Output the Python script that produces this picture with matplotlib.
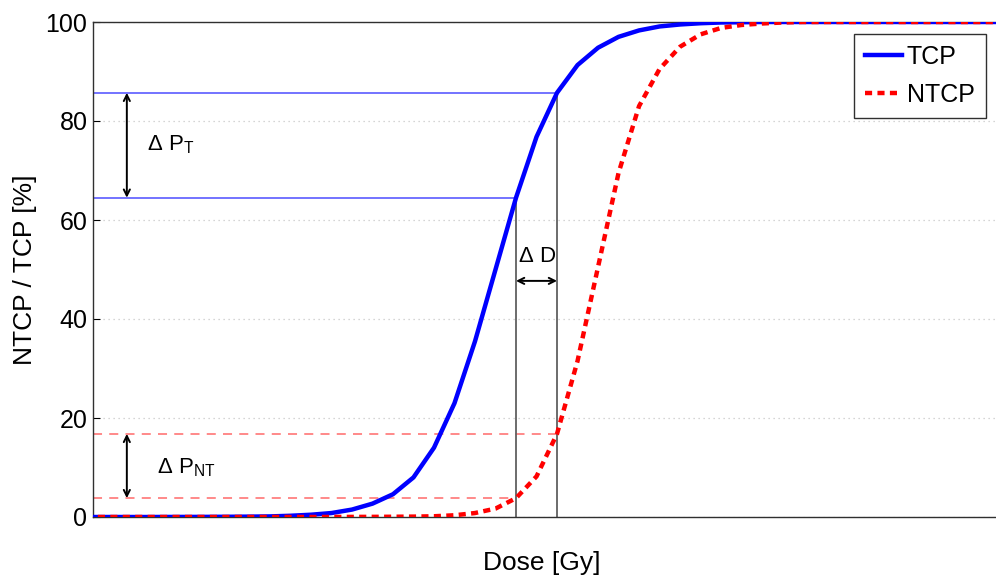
import matplotlib
matplotlib.use("Agg")
import matplotlib.pyplot as plt

plt.rcParams['font.family'] = ['Liberation Sans', 'DejaVu Sans']
plt.rcParams['mathtext.fontset'] = 'custom'
plt.rcParams['mathtext.rm'] = 'Liberation Sans'
plt.rcParams['mathtext.it'] = 'Liberation Sans'
plt.rcParams['mathtext.default'] = 'regular'

# Dose sample points (arbitrary dose units)
dose = list(range(-1, 45))
tcp = [0.0, 0.0, 0.0, 0.0, 0.01, 0.02, 0.03, 0.05, 0.08, 0.12, 0.25,
       0.46, 0.8, 1.5, 2.7, 4.6, 8.0, 14.0, 23.0, 35.5, 50.0,
       64.5, 76.8, 85.7, 91.3, 94.8, 97.0, 98.3, 99.1, 99.5, 99.75,
       99.9, 99.95, 100, 100, 100, 100, 100, 100, 100, 100,
       100, 100, 100, 100, 100]
ntcp = [0.0, 0.0, 0.0, 0.0, 0.0, 0.0, 0.0, 0.0, 0.0, 0.0, 0.0,
        0.0, 0.01, 0.02, 0.03, 0.05, 0.08, 0.15, 0.35, 0.8, 1.7,
        3.8, 8.2, 16.8, 31.5, 50.5, 69.5, 83.0, 90.5, 95.0, 97.5,
        98.8, 99.4, 99.7, 99.9, 100, 100, 100, 100, 100, 100,
        100, 100, 100, 100, 100]

d1_idx, d2_idx = 21, 23
yticks = [0, 20, 40, 60, 80, 100]

fig = plt.figure(figsize=(9.96, 5.79), dpi=100)
ax = fig.add_axes([93/996, 62/579, 910/996, 495/579])

d1, d2 = dose[d1_idx], dose[d2_idx]
xmin, xmax = -0.63, 43.75

# reference lines
ax.plot([xmin, d1], [tcp[d1_idx]] * 2, color=(0.3, 0.3, 1.0), lw=1.1, zorder=2)
ax.plot([xmin, d2], [tcp[d2_idx]] * 2, color=(0.45, 0.45, 1.0), lw=1.4, zorder=2)
ax.plot([xmin, d1], [ntcp[d1_idx]] * 2, color='#ff8080', lw=1.3, ls=(0, (5, 4)), zorder=2)
ax.plot([xmin, d2], [ntcp[d2_idx]] * 2, color='#ff8080', lw=1.3, ls=(0, (5, 4)), zorder=2)
ax.plot([d1, d1], [0, tcp[d1_idx]], color='#606060', lw=1.3, zorder=2)
ax.plot([d2, d2], [0, tcp[d2_idx]], color='#606060', lw=1.3, zorder=2)

# curves
ax.plot(dose, tcp, color='#0000ff', lw=3.2, label='TCP', zorder=4)
ax.plot(dose, ntcp, color='#ff0000', lw=3.2, ls=(0, (1.6, 1.2)), label='NTCP', zorder=5)

# arrows
arr = dict(arrowstyle='<->', color='black', lw=1.4, mutation_scale=11, shrinkA=0, shrinkB=0)
ax.annotate('', xy=(1.02, tcp[d2_idx]), xytext=(1.02, tcp[d1_idx]), arrowprops=arr, zorder=6)
ax.annotate('', xy=(1.02, ntcp[d2_idx]), xytext=(1.02, ntcp[d1_idx]), arrowprops=arr, zorder=6)
ax.annotate('', xy=(d1, 47.7), xytext=(d2, 47.7), arrowprops=arr, zorder=6)

ax.text(2.0, 74.1, r'$\Delta\ P_{T}$', fontsize=16, va='baseline', ha='left')
ax.text(2.5, 8.9, r'$\Delta\ P_{NT}$', fontsize=16, va='baseline', ha='left')
ax.text(d1 + 0.1, 51.5, r'$\Delta$ D', fontsize=16, va='baseline', ha='left')

ax.set_xlim(xmin, xmax)
ax.set_ylim(0, 100)
ax.set_yticks(yticks)
ax.set_yticklabels([str(v) for v in yticks], fontsize=18)
ax.set_xticks([])
ax.tick_params(axis='y', direction='in', length=5, width=0.8, pad=4, left=True, right=False)
ax.yaxis.grid(True, color='#c8c8c8', ls=(0, (1, 3)), lw=0.9)
for s in ax.spines.values():
    s.set_color('#303030')
    s.set_linewidth(1.0)

ax.set_ylabel('NTCP / TCP [%]', fontsize=19, labelpad=6)
ax.set_xlabel('Dose [Gy]', fontsize=19)
ax.xaxis.set_label_coords(0.493, -0.068)

leg = ax.legend(loc='upper right', bbox_to_anchor=(0.981, 0.976), borderaxespad=0,
                fontsize=18, handlelength=1.45, handletextpad=0.2, fancybox=False,
                framealpha=1, edgecolor='#303030', borderpad=0.45, labelspacing=0.55)
leg.get_frame().set_linewidth(1.0)

fig.savefig('out.png', dpi=100)
